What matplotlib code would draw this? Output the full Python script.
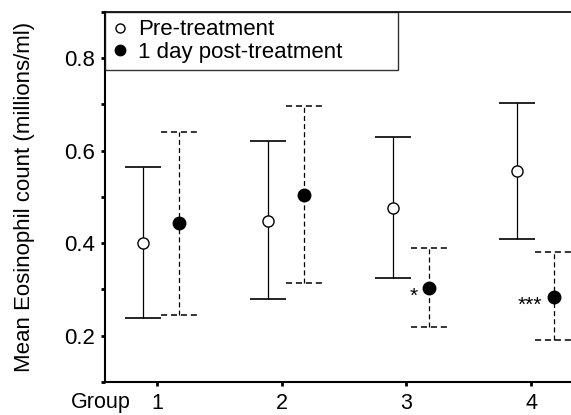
import numpy as np
import matplotlib.pyplot as plt
from matplotlib.lines import Line2D
from matplotlib.ticker import MultipleLocator

# valores
grupos = [1, 2, 3, 4]
pre_media = [0.400, 0.448, 0.475, 0.555]
pre_sup = [0.565, 0.621, 0.630, 0.704]
pre_inf = [0.239, 0.280, 0.324, 0.409]
pos_media = [0.444, 0.505, 0.302, 0.283]
pos_sup = [0.640, 0.697, 0.390, 0.380]
pos_inf = [0.245, 0.313, 0.219, 0.191]
pos_signif = ["", "", "*", "***"]

plt.rcParams["font.family"] = ["Liberation Sans", "DejaVu Sans"]

DASH = (0, (4, 2.5))

fig = plt.figure(figsize=(5.71, 4.15), dpi=100)
ax = fig.add_axes([0.184, 0.080, 0.816, 0.891])

g = np.array(grupos, dtype=float)
x_pre = g - 0.11
x_pos = g + 0.18
pre_m, pos_m = np.array(pre_media), np.array(pos_media)

# pré-tratamento: barras sólidas, círculo aberto
ax.errorbar(x_pre, pre_m,
            yerr=[pre_m - np.array(pre_inf), np.array(pre_sup) - pre_m],
            fmt="none", ecolor="black", elinewidth=0.9, capsize=13, capthick=1.2)
ax.plot(x_pre, pre_m, "o", ms=8, mfc="white", mec="black", mew=1.0, zorder=5)

# pós-tratamento: barras tracejadas (inclusive os caps)
cw = 0.145
ax.vlines(x_pos, pos_inf, pos_sup, colors="black", lw=0.9, linestyles=DASH)
ax.hlines(pos_sup, x_pos - cw, x_pos + cw, colors="black", lw=1.1, linestyles=DASH)
ax.hlines(pos_inf, x_pos - cw, x_pos + cw, colors="black", lw=1.1, linestyles=DASH)
ax.plot(x_pos, pos_m, "o", ms=9, mfc="black", mec="black", zorder=5)

for xp, yp, s in zip(x_pos, pos_m, pos_signif):
    if s:
        ax.annotate(s, xy=(xp, yp), xytext=(-8, -6), textcoords="offset points",
                    ha="right", va="center", fontsize=15)

ax.set_xlim(0.583, 4.32)
ax.set_ylim(0.1, 0.9)
ax.set_xticks(grupos)
ax.set_xticklabels([str(v) for v in grupos])
ax.set_yticks([0.2, 0.4, 0.6, 0.8])
ax.yaxis.set_minor_locator(MultipleLocator(0.1))
ax.tick_params(axis="both", which="both", direction="out", length=3, width=2)
ax.tick_params(axis="y", pad=4, labelsize=16)
ax.tick_params(axis="x", pad=5, labelsize=15.5)

ax.spines["right"].set_visible(False)
ax.spines["left"].set_linewidth(1.5)
ax.spines["bottom"].set_linewidth(1.5)
ax.spines["top"].set_linewidth(1.2)

ax.set_ylabel("Mean Eosinophil count (millions/ml)", fontsize=16)
ax.yaxis.set_label_coords(-0.150, 0.5)

ax.annotate("Group", xy=(0.79, 0), xycoords=("data", "axes fraction"),
            xytext=(0, -7.3), textcoords="offset points",
            ha="right", va="top", fontsize=15.5)

handles = [
    Line2D([], [], ls="none", marker="o", ms=6.5, mfc="white", mec="black"),
    Line2D([], [], ls="none", marker="o", ms=7.5, mfc="black", mec="black"),
]
leg = ax.legend(handles, ["Pre-treatment", "1 day post-treatment"],
                loc="upper left", bbox_to_anchor=(0, 1, 0.629, 0), mode="expand",
                borderaxespad=0, fontsize=16, frameon=True, fancybox=False,
                edgecolor="black", handlelength=0.7, handletextpad=0.45,
                labelspacing=0.08, borderpad=0.33)
leg.get_frame().set_linewidth(1.0)

fig.savefig("out.png", dpi=100, facecolor="white")
